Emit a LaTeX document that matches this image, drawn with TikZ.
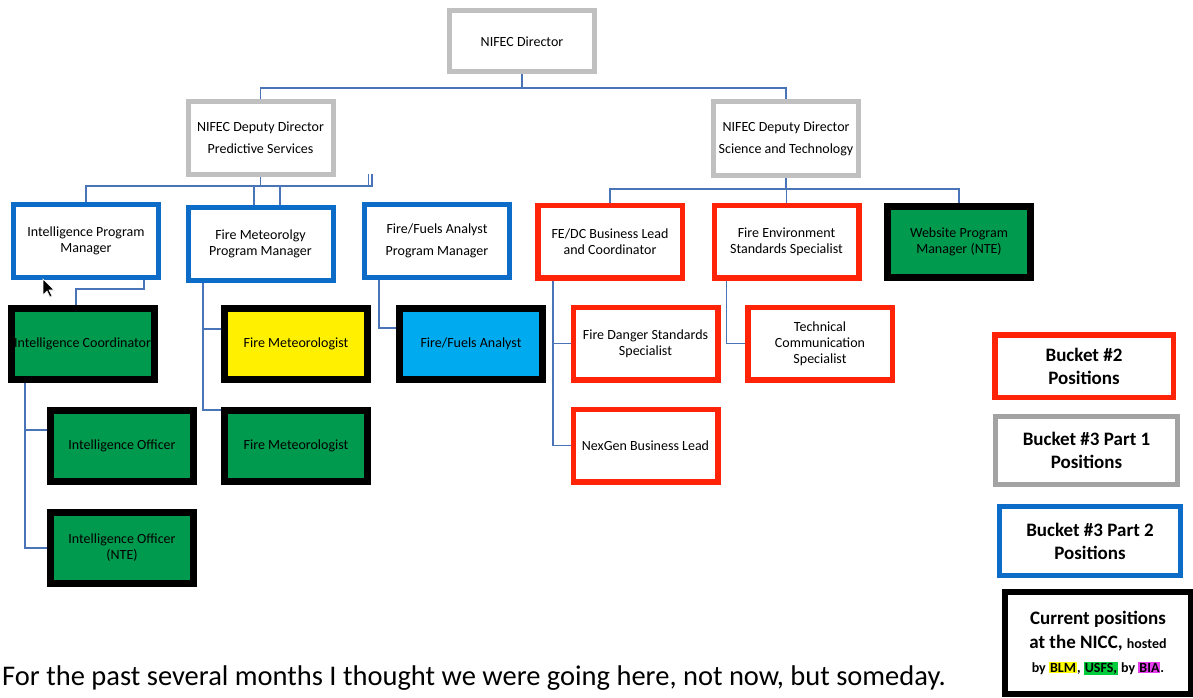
\documentclass[tikz,border=0pt]{standalone}
\usepackage{fontspec}
\setmainfont{Carlito}
\usetikzlibrary{positioning,backgrounds}
\definecolor{bktgray}{RGB}{192,192,192}
\definecolor{bktblue}{RGB}{12,108,200}
\definecolor{bktred}{RGB}{255,36,8}
\definecolor{nicc}{RGB}{0,154,78}
\definecolor{wxyel}{RGB}{255,240,0}
\definecolor{fuelblue}{RGB}{0,170,238}
\definecolor{orgline}{RGB}{74,116,184}
\definecolor{blmyel}{RGB}{255,255,0}
\definecolor{usfsgrn}{RGB}{0,204,60}
\definecolor{biamag}{RGB}{230,60,240}
\tikzset{posbox/.style={draw, fill=white, align=center, inner sep=1pt, minimum width=145pt, minimum height=73pt, font=\fontsize{14}{16}\selectfont}}
\tikzset{posg/.style={posbox, draw=bktgray, line width=5pt}}
\tikzset{posb/.style={posbox, draw=bktblue, line width=5pt}}
\tikzset{posr/.style={posbox, draw=bktred, line width=5.5pt, minimum width=144.5pt, minimum height=72.5pt}}
\tikzset{posk/.style={posbox, draw=black, line width=7pt, fill=nicc, minimum width=143pt, minimum height=71pt}}
\tikzset{orgl/.style={draw=orgline, line width=1.6pt}}
\tikzset{legend/.style={draw, fill=white, align=center, line width=5pt, font=\fontsize{19}{23}\selectfont\bfseries}}

\begin{document}
\begin{tikzpicture}[x=1pt, y=-1pt]
\useasboundingbox (0,0) rectangle (1193,698);
% directors
\node[posg, minimum height=61pt] (dir) at (522,41.5) {NIFEC Director};
\node[posg] (dps) at (260.5,138) {NIFEC Deputy Director\\[6pt]Predictive Services};
\node[posg] (dst) at (786,138.5) {NIFEC Deputy Director\\[6pt]Science and Technology};
% program managers
\node[posb] (ipm) at (86,241) {Intelligence Program\\Manager};
\node[posb] (fmpm) at (260.5,243.5) {Fire Meteorolgy\\Program Manager};
\node[posb] (ffpm) at (437,241) {Fire/Fuels Analyst\\[6pt]Program Manager};
\node[posr] (fedc) at (610,241.5) {FE/DC Business Lead\\and Coordinator};
\node[posr] (fenv) at (786.5,241.5) {Fire Environment\\Standards Specialist};
\node[posk] (web) at (959,241.5) {Website Program\\Manager (NTE)};
% staff
\node[posk] (icoord) at (82.5,344) {Intelligence Coordinator};
\node[posk, fill=wxyel] (fmet1) at (296,344) {Fire Meteorologist};
\node[posk, fill=fuelblue] (ffa) at (471,344) {Fire/Fuels Analyst};
\node[posr] (fds) at (645.5,343.5) {Fire Danger Standards\\Specialist};
\node[posr] (tcs) at (820,343.5) {Technical\\Communication\\Specialist};
\node[posk] (iofc) at (122,446) {Intelligence Officer};
\node[posk] (fmet2) at (296,446) {Fire Meteorologist};
\node[posr] (nexgen) at (645.5,445.5) {NexGen Business Lead};
\node[posk] (iofn) at (122,548) {Intelligence Officer\\(NTE)};

% legend
\node[legend, draw=bktred, line width=5.5pt, minimum width=178.5pt, minimum height=62.5pt] (lg2) at (1084,366) {Bucket \#2\\Positions};
\node[legend, draw=bktgray!85!black, minimum width=182pt, minimum height=68pt] (lg31) at (1086.5,450.5) {Bucket \#3 Part 1\\Positions};
\node[legend, draw=bktblue, minimum width=181pt, minimum height=69pt] (lg32) at (1090,541) {Bucket \#3 Part 2\\Positions};
\node[legend, draw=black, line width=6pt, minimum width=186pt, minimum height=102pt, inner sep=0pt, font=\fontsize{19}{24}\selectfont\bfseries] (lgnow) at (1098,643)
  {Current positions\\at the NICC, {\fontsize{14}{16}\selectfont hosted}\\{\fontsize{14}{16}\selectfont\setlength{\fboxsep}{1pt}by \colorbox{blmyel}{BLM}, \colorbox{usfsgrn}{USFS,} by \colorbox{biamag}{BIA}.}};

\node[anchor=base west, inner sep=0pt, font=\fontsize{28.5}{32}\selectfont] (note) at (2,685)
  {For the past several months I thought we were going here, not now, but someday.};

% mouse pointer
\filldraw[fill=black, draw=white, line width=0.6pt] (43,279) -- (43,295) -- (47,291) -- (50,297) -- (52,296) -- (49,290) -- (54,290) -- cycle;

\begin{scope}[on background layer]
\coordinate (topbus) at (522,88);
\coordinate (psbus) at (260.5,186);
\coordinate (psend) at (372,186);
\coordinate (tk1) at (368.5,174);
\coordinate (tk2) at (372,174);
\coordinate (stbus) at (786,189);
\coordinate (ib) at (76,289);
\draw[orgl] (dir.south) -- (topbus);
\draw[orgl] (dps.north) |- (topbus) -| (dst.north);
% predictive services
\draw[orgl] (dps.south) -- (psbus);
\draw[orgl] (ipm.north) |- (psend) -- (tk2);
\draw[orgl] (tk1) -- (tk1 |- psend);
\draw[orgl] ([xshift=-6.5pt]fmpm.north) |- (psend);
\draw[orgl] ([xshift=19.5pt]fmpm.north) |- (psend);
% science and technology
\draw[orgl] (dst.south) -- (stbus);
\draw[orgl] (fedc.north) |- (stbus) -| (web.north);
\draw[orgl] (fenv.north) |- (stbus);
% staff lines
\draw[orgl] ([xshift=58pt]ipm.south) |- (ib) -- (ib |- icoord.north);
\draw[orgl] ([xshift=-57.5pt]icoord.south) |- ([yshift=16pt]iofc.west);
\draw[orgl] ([xshift=-57.5pt]icoord.south) |- (iofn.west);
\draw[orgl] ([xshift=-57.5pt]fmpm.south) |- ([yshift=15pt]fmet1.west);
\draw[orgl] ([xshift=-57.5pt]fmpm.south) |- ([yshift=36pt]fmet2.west);
\draw[orgl] ([xshift=-58pt]ffpm.south) |- ([yshift=16pt]ffa.west);
\draw[orgl] ([xshift=-57pt]fedc.south) |- (fds.west);
\draw[orgl] ([xshift=-57pt]fedc.south) |- (nexgen.west);
\draw[orgl] ([xshift=-60pt]fenv.south) |- (tcs.west);
\end{scope}
\end{tikzpicture}
\end{document}
